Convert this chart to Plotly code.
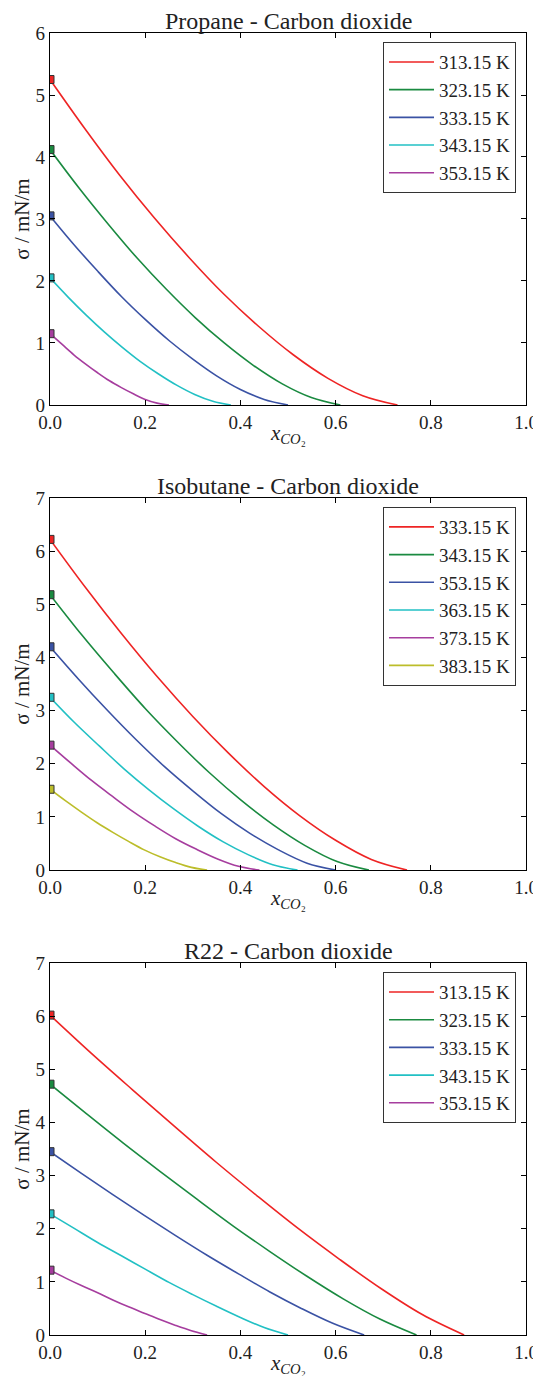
import plotly.graph_objects as go

# x = CO2 mole fraction, y = surface tension (mN/m)
temps_propane = ["313.15 K", "323.15 K", "333.15 K", "343.15 K", "353.15 K"]
x_propane = [
    [0, 0.073, 0.146, 0.219, 0.292, 0.365, 0.438, 0.511, 0.584, 0.657, 0.73],
    [0, 0.061, 0.122, 0.183, 0.244, 0.305, 0.366, 0.427, 0.488, 0.549, 0.61],
    [0, 0.05, 0.10, 0.15, 0.20, 0.25, 0.30, 0.35, 0.40, 0.45, 0.50],
    [0, 0.038, 0.076, 0.114, 0.152, 0.19, 0.228, 0.266, 0.304, 0.342, 0.38],
    [0, 0.025, 0.05, 0.075, 0.10, 0.125, 0.15, 0.175, 0.20, 0.225, 0.25],
]
y_propane = [
    [5.25, 4.46, 3.71, 3.02, 2.38, 1.79, 1.27, 0.81, 0.43, 0.15, 0],
    [4.12, 3.50, 2.92, 2.37, 1.87, 1.41, 1.00, 0.64, 0.34, 0.12, 0],
    [3.05, 2.59, 2.16, 1.75, 1.38, 1.04, 0.74, 0.47, 0.25, 0.09, 0],
    [2.05, 1.74, 1.45, 1.18, 0.93, 0.70, 0.50, 0.32, 0.17, 0.06, 0],
    [1.15, 0.98, 0.81, 0.66, 0.52, 0.39, 0.28, 0.18, 0.09, 0.03, 0],
]

temps_isobutane = ["333.15 K", "343.15 K", "353.15 K", "363.15 K", "373.15 K", "383.15 K"]
x_isobutane = [
    [0, 0.075, 0.15, 0.225, 0.30, 0.375, 0.45, 0.525, 0.60, 0.675, 0.75],
    [0, 0.067, 0.134, 0.201, 0.268, 0.335, 0.402, 0.469, 0.536, 0.603, 0.67],
    [0, 0.06, 0.12, 0.18, 0.24, 0.30, 0.36, 0.42, 0.48, 0.54, 0.60],
    [0, 0.052, 0.104, 0.156, 0.208, 0.26, 0.312, 0.364, 0.416, 0.468, 0.52],
    [0, 0.044, 0.088, 0.132, 0.176, 0.22, 0.264, 0.308, 0.352, 0.396, 0.44],
    [0, 0.033, 0.066, 0.099, 0.132, 0.165, 0.198, 0.231, 0.264, 0.297, 0.33],
]
y_isobutane = [
    [6.22, 5.31, 4.45, 3.64, 2.89, 2.20, 1.57, 1.02, 0.56, 0.20, 0],
    [5.18, 4.42, 3.71, 3.03, 2.41, 1.83, 1.31, 0.85, 0.46, 0.16, 0],
    [4.20, 3.59, 3.01, 2.46, 1.95, 1.49, 1.06, 0.69, 0.38, 0.13, 0],
    [3.25, 2.77, 2.33, 1.90, 1.51, 1.15, 0.82, 0.53, 0.29, 0.10, 0],
    [2.35, 2.01, 1.68, 1.38, 1.09, 0.83, 0.59, 0.39, 0.21, 0.07, 0],
    [1.52, 1.30, 1.09, 0.89, 0.71, 0.54, 0.38, 0.25, 0.14, 0.05, 0],
]

temps_r22 = ["313.15 K", "323.15 K", "333.15 K", "343.15 K", "353.15 K"]
x_r22 = [
    [0, 0.087, 0.174, 0.261, 0.348, 0.435, 0.522, 0.609, 0.696, 0.783, 0.87],
    [0, 0.077, 0.154, 0.231, 0.308, 0.385, 0.462, 0.539, 0.616, 0.693, 0.77],
    [0, 0.066, 0.132, 0.198, 0.264, 0.33, 0.396, 0.462, 0.528, 0.594, 0.66],
    [0, 0.05, 0.10, 0.15, 0.20, 0.25, 0.30, 0.35, 0.40, 0.45, 0.50],
    [0, 0.033, 0.066, 0.099, 0.132, 0.165, 0.198, 0.231, 0.264, 0.297, 0.33],
]
y_r22 = [
    [6.02, 5.30, 4.61, 3.93, 3.26, 2.62, 2.00, 1.42, 0.87, 0.38, 0],
    [4.72, 4.16, 3.61, 3.08, 2.56, 2.05, 1.57, 1.11, 0.68, 0.30, 0],
    [3.45, 3.04, 2.64, 2.25, 1.87, 1.50, 1.15, 0.81, 0.50, 0.22, 0],
    [2.28, 2.01, 1.74, 1.49, 1.24, 0.99, 0.76, 0.54, 0.33, 0.14, 0],
    [1.22, 1.07, 0.93, 0.80, 0.66, 0.53, 0.41, 0.29, 0.18, 0.08, 0],
]

colors = ["#ee2424", "#1a8a40", "#3a52a4", "#22c0c4", "#a63d9e", "#bcbd2a"]

panels = [
    ("Propane - Carbon dioxide", temps_propane, x_propane, y_propane, 6, [0.7143, 1.0]),
    ("Isobutane - Carbon dioxide", temps_isobutane, x_isobutane, y_isobutane, 7, [0.3571, 0.6429]),
    ("R22 - Carbon dioxide", temps_r22, x_r22, y_r22, 7, [0.0, 0.2857]),
]

font = "Liberation Serif"
txt = "#222222"

fig = go.Figure()
layout = {}
annotations = []
for i, (title, temps, xs, ys, ymax, dom) in enumerate(panels):
    n = i + 1
    sfx = "" if n == 1 else str(n)
    leg = "legend" if n == 1 else "legend" + str(n)
    for j, t in enumerate(temps):
        fig.add_trace(go.Scatter(
            x=xs[j], y=ys[j], mode="lines", name=t,
            line=dict(color=colors[j], width=1.6, shape="spline", smoothing=1.0),
            xaxis="x" + sfx, yaxis="y" + sfx, legend=leg))
        fig.add_trace(go.Scatter(
            x=[xs[j][0]], y=[ys[j][0]], mode="markers", showlegend=False,
            marker=dict(symbol="square", size=8, color=colors[j],
                        line=dict(color="#333333", width=1)),
            xaxis="x" + sfx, yaxis="y" + sfx))

    axis_common = dict(showline=True, linecolor="black", linewidth=1.2, mirror="ticks",
                       ticks="inside", ticklen=5, tickcolor="black", showgrid=False,
                       zeroline=False, automargin=False,
                       tickfont=dict(family=font, size=19, color=txt))
    layout["xaxis" + sfx] = dict(axis_common, domain=[0, 1], range=[0, 1], dtick=0.2,
                                 tickformat=".1f", anchor="y" + sfx)
    layout["yaxis" + sfx] = dict(axis_common, domain=dom, range=[0, ymax], dtick=1,
                                 anchor="x" + sfx, ticklabelstandoff=0,
                                 title=dict(text="σ / mN/m",
                                            font=dict(family=font, size=21, color=txt),
                                            standoff=0))
    layout[leg] = dict(x=0.979, y=dom[1] - 0.007, xanchor="right", yanchor="top",
                       bgcolor="white", bordercolor="#333333", borderwidth=1,
                       font=dict(family=font, size=19, color=txt), itemwidth=45,
                       tracegroupgap=0)
    annotations.append(dict(text=title, x=0.5, y=dom[1], xref="paper", yref="paper",
                            xanchor="center", yanchor="bottom", showarrow=False,
                            font=dict(family=font, size=24, color=txt), yshift=-3))
    annotations.append(dict(text="<i>x</i><sub><i>CO</i>₂</sub>", x=0.5, y=dom[0],
                            xref="paper", yref="paper", xanchor="center", yanchor="middle",
                            showarrow=False, yshift=-29,
                            font=dict(family=font, size=21, color=txt)))

fig.update_layout(**layout)
# the page body adds an 8 px offset, so the figure is shifted back by that much
fig.update_layout(
    width=533, height=1368,
    margin=dict(l=42, r=15, t=25, b=41),
    plot_bgcolor="white", paper_bgcolor="white",
    annotations=annotations,
)

fig.write_html("out.html")
